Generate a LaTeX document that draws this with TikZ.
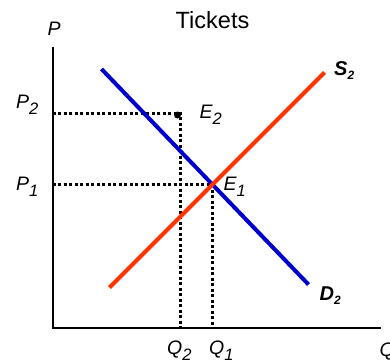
\documentclass[tikz,border=0pt]{standalone}
\usepackage{fontspec}
\setmainfont{Liberation Sans}

\definecolor{mktAxis}{RGB}{0,0,0}
\definecolor{mktSupply}{RGB}{255,51,0}
\definecolor{mktDemand}{RGB}{0,0,204}

\newcommand{\mktlbl}[2]{#1\raisebox{-6pt}{\fontsize{16.5}{16.5}\selectfont #2}}
\newcommand{\mktcurve}[2]{#1\raisebox{-4pt}{\fontsize{12}{12}\selectfont #2}}

\begin{document}
\begin{tikzpicture}[x=1pt, y=-1pt,
  mktAxisLine/.style={line width=2pt, draw=mktAxis},
  mktCurveLine/.style={line width=4pt},
  mktGuide/.style={line width=3pt, draw=black, dash pattern=on 3pt off 2.5pt},
  mktLabel/.style={inner sep=0pt, anchor=base west, font=\fontsize{19.5}{19.5}\selectfont\itshape},
  mktCurveLabel/.style={inner sep=0pt, anchor=base west, font=\fontsize{20}{20}\selectfont\bfseries\itshape}]
  \useasboundingbox (0,0) rectangle (390,362);
  % axes
  \coordinate (O) at (52.7,328);
  \coordinate (yTop) at (52.7,47);
  \coordinate (xEnd) at (381,328);
  \draw[mktAxisLine] (yTop) -- (O) -- (xEnd);
  % equilibria
  \coordinate (E1) at (212,184);
  \coordinate (E2) at (180.5,113);
  \coordinate (p1) at (O |- E1);
  \coordinate (p2) at (O |- E2);
  \coordinate (q1) at (E1 |- O);
  \coordinate (q2) at (E2 |- O);
  \draw[mktGuide] (p2) -- (E2) -- (q2);
  \draw[mktGuide] (p1) -- (E1) -- (q1);
  \fill (177.5,115) circle (3.5pt);
  % curves
  \coordinate (dTop) at (101.5,69);
  \coordinate (dBot) at (308.5,284.5);
  \coordinate (sBot) at (109.5,287.5);
  \coordinate (sTop) at (324.5,72.5);
  \draw[mktCurveLine, draw=mktDemand] (dTop) -- (dBot);
  \draw[mktCurveLine, draw=mktSupply] (sBot) -- (sTop);
  % labels
  \node[inner sep=0pt, anchor=base, font=\fontsize{23.5}{23.5}\selectfont] (title) at (212.5,28) {Tickets};
  \node[mktLabel] (pAxis) at (47.5,35) {P};
  \node[mktLabel] (qAxis) at (379.5,356) {Q};
  \node[mktLabel] (pTwo) at (16,108) {\mktlbl{P}{2}};
  \node[mktLabel] (pOne) at (16,190) {\mktlbl{P}{1}};
  \node[mktLabel] (eTwo) at (199.5,118) {\mktlbl{E}{2}};
  \node[mktLabel] (eOne) at (223.5,190) {\mktlbl{E}{1}};
  \node[mktLabel] (qTwo) at (167,354) {\mktlbl{Q}{2}};
  \node[mktLabel] (qOne) at (209,354) {\mktlbl{Q}{1}};
  \node[mktCurveLabel] (sLabel) at (334,75) {\mktcurve{S}{2}};
  \node[mktCurveLabel] (dLabel) at (319.5,300) {\mktcurve{D}{2}};
\end{tikzpicture}
\end{document}
